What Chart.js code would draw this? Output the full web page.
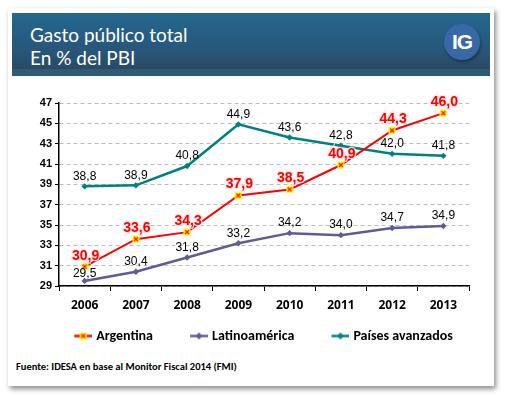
<!DOCTYPE html>
<html>
<head>
<meta charset="utf-8">
<script src="https://cdn.jsdelivr.net/npm/chart.js@4.4.0/dist/chart.umd.min.js"></script>
<style>
  html, body { margin: 0; padding: 0; background: #ffffff; width: 507px; height: 396px; overflow: hidden; }
  #card { position: absolute; left: 8px; top: 8px; width: 486px; height: 378px; background: #fff;
          box-shadow: 2px 3px 5px rgba(0,0,0,0.45); }
  #header { position: absolute; left: 12px; top: 13px; width: 478px; height: 63px;
            background: linear-gradient(#24688f 0%, #27567a 60%, #2a4a63 89%, #2f5b75 89%, #2f5b75 100%); }
  #title { position: absolute; left: 30px; top: 23px; color: #fff; font-family: Lato, "Open Sans", sans-serif;
           font-size: 19px; line-height: 23px; }
  #logo { position: absolute; left: 444px; top: 24px; width: 36px; height: 36px; border-radius: 50%;
          background: #3868a6; color: #fff; font: bold 21px "Liberation Sans", Arial, sans-serif;
          text-align: center; line-height: 36px; box-shadow: 1px 2px 3px rgba(0,0,0,0.35); letter-spacing: -1px; }
  #source { position: absolute; left: 16px; top: 360px; font: bold 10.5px Carlito, Lato, sans-serif; color: #000; }
  #wrap { position: absolute; left: 0; top: 0; width: 507px; height: 396px; }
</style>
</head>
<body>
<div id="card"></div>
<div id="header"></div>
<div id="title">Gasto público total<br>En % del PBI</div>
<div id="logo">IG</div>
<div id="source">Fuente: IDESA en base al Monitor Fiscal 2014 (FMI)</div>
<div id="wrap"><canvas id="c" width="507" height="396"></canvas></div>
<script>
const categories = ["2006", "2007", "2008", "2009", "2010", "2011", "2012", "2013"];
const argentina = [30.9, 33.6, 34.3, 37.9, 38.5, 40.9, 44.3, 46.0];
const latinoamerica = [29.5, 30.4, 31.8, 33.2, 34.2, 34.0, 34.7, 34.9];
const paisesAvanzados = [38.8, 38.9, 40.8, 44.9, 43.6, 42.8, 42.0, 41.8];
const seriesNames = ["Argentina", "Latinoamérica", "Países avanzados"];
const yTicks = [29, 31, 33, 35, 37, 39, 41, 43, 45, 47];

const RED = "#ff0000", PURPLE = "#5f5b97", TEAL = "#008080";
const LEG_BOX = 37;

function argMarker() {
  const c = document.createElement("canvas"); c.width = 8; c.height = 8;
  const g = c.getContext("2d");
  g.fillStyle = "#ffff00"; g.fillRect(0.5, 0.5, 7, 7);
  g.strokeStyle = RED; g.lineWidth = 1.2;
  g.beginPath(); g.moveTo(2, 2); g.lineTo(6, 6); g.moveTo(6, 2); g.lineTo(2, 6); g.stroke();
  return c;
}
// legend icon: canvas slightly wider than the legend box, with line+marker at its right end
function legendIcon(color, kind) {
  const W = LEG_BOX + 6;
  const c = document.createElement("canvas"); c.width = W; c.height = 9;
  const g = c.getContext("2d");
  const x0 = W - 18;
  g.strokeStyle = color; g.lineWidth = 2.5;
  g.beginPath(); g.moveTo(x0, 4.5); g.lineTo(W, 4.5); g.stroke();
  if (kind === "arg") {
    g.drawImage(argMarker(), x0 + 5, 0.5);
  } else {
    g.fillStyle = color;
    g.beginPath(); g.moveTo(x0 + 9, 1); g.lineTo(x0 + 12.5, 4.5); g.lineTo(x0 + 9, 8); g.lineTo(x0 + 5.5, 4.5); g.closePath(); g.fill();
  }
  return c;
}

const dataLabels = {
  id: "dataLabels",
  afterDatasetsDraw(chart) {
    const ctx = chart.ctx;
    chart.data.datasets.forEach((ds, i) => {
      const meta = chart.getDatasetMeta(i);
      meta.data.forEach((pt, j) => {
        const txt = ds.data[j].toFixed(1).replace(".", ",");
        ctx.save();
        ctx.textAlign = "center";
        ctx.textBaseline = "middle";
        if (i === 0) {
          ctx.font = "bold 14px 'Liberation Sans', Arial, sans-serif";
          ctx.lineWidth = 2.5; ctx.strokeStyle = "rgba(255,230,230,0.9)";
          ctx.strokeText(txt, pt.x + 1, pt.y - 11);
          ctx.fillStyle = RED;
          ctx.fillText(txt, pt.x + 1, pt.y - 11);
        } else {
          ctx.font = "12px 'Liberation Sans', Arial, sans-serif";
          ctx.fillStyle = "#000";
          ctx.fillText(txt, pt.x, pt.y - (i === 1 && j === 0 ? 7 : 10));
        }
        ctx.restore();
      });
    });
  }
};

const arrays = [argentina, latinoamerica, paisesAvanzados];
const colors = [RED, PURPLE, TEAL];
const widths = [2, 2.5, 2.5];

new Chart(document.getElementById("c"), {
  type: "line",
  data: {
    labels: categories,
    datasets: arrays.map((d, i) => ({
      label: seriesNames[i],
      data: d,
      yAxisID: "y",
      borderColor: colors[i],
      backgroundColor: colors[i],
      borderWidth: widths[i],
      tension: 0,
      pointStyle: i === 0 ? argMarker() : "rectRot",
      pointRadius: i === 0 ? 4 : 3.2,
      pointBorderWidth: 0,
      pointBackgroundColor: colors[i],
      legendIcon: legendIcon(colors[i], i === 0 ? "arg" : "d")
    }))
  },
  options: {
    responsive: false,
    animation: false,
    layout: { padding: { left: 0, right: 2, top: 103, bottom: 43 } },
    plugins: {
      tooltip: { enabled: false },
      legend: {
        position: "bottom",
        labels: {
          usePointStyle: true,
          pointStyleWidth: LEG_BOX,
          padding: 15,
          color: "#000",
          font: { family: "Carlito, Lato, sans-serif", size: 14, weight: "bold" },
          generateLabels(chart) {
            return chart.data.datasets.map((ds, i) => ({
              text: ds.label,
              pointStyle: ds.legendIcon,
              fillStyle: ds.borderColor,
              strokeStyle: ds.borderColor,
              lineWidth: 0,
              fontColor: "#000",
              hidden: false,
              datasetIndex: i
            }));
          }
        }
      }
    },
    scales: {
      x: {
        offset: true,
        grid: { offset: true, drawOnChartArea: false, tickLength: 5, tickColor: "#000", tickWidth: 1 },
        border: { display: true, color: "#000", width: 1.5 },
        ticks: { color: "#000", padding: 7, font: { family: "'Open Sans', sans-serif", size: 12, weight: "bold" } },
        afterFit(s) { s.height = 28; }
      },
      y: {
        min: 29, max: 47,
        afterBuildTicks(s) { s.ticks = yTicks.map(v => ({ value: v })); },
        grid: { color: "#bdbdbd", lineWidth: 1, tickLength: 4, tickColor: "#000", tickBorderDash: [] },
        border: { display: true, color: "#000", width: 1.5, dash: [4, 3] },
        ticks: { color: "#000", padding: 3, font: { family: "'Liberation Sans', Arial, sans-serif", size: 11, weight: "bold" } },
        afterFit(s) { s.width = 59; }
      },
      spacer: {
        type: "linear",
        position: "right",
        grid: { display: false },
        border: { display: false },
        ticks: { display: false },
        afterFit(s) { s.width = 36; }
      }
    }
  },
  plugins: [dataLabels]
});
</script>
</body>
</html>
